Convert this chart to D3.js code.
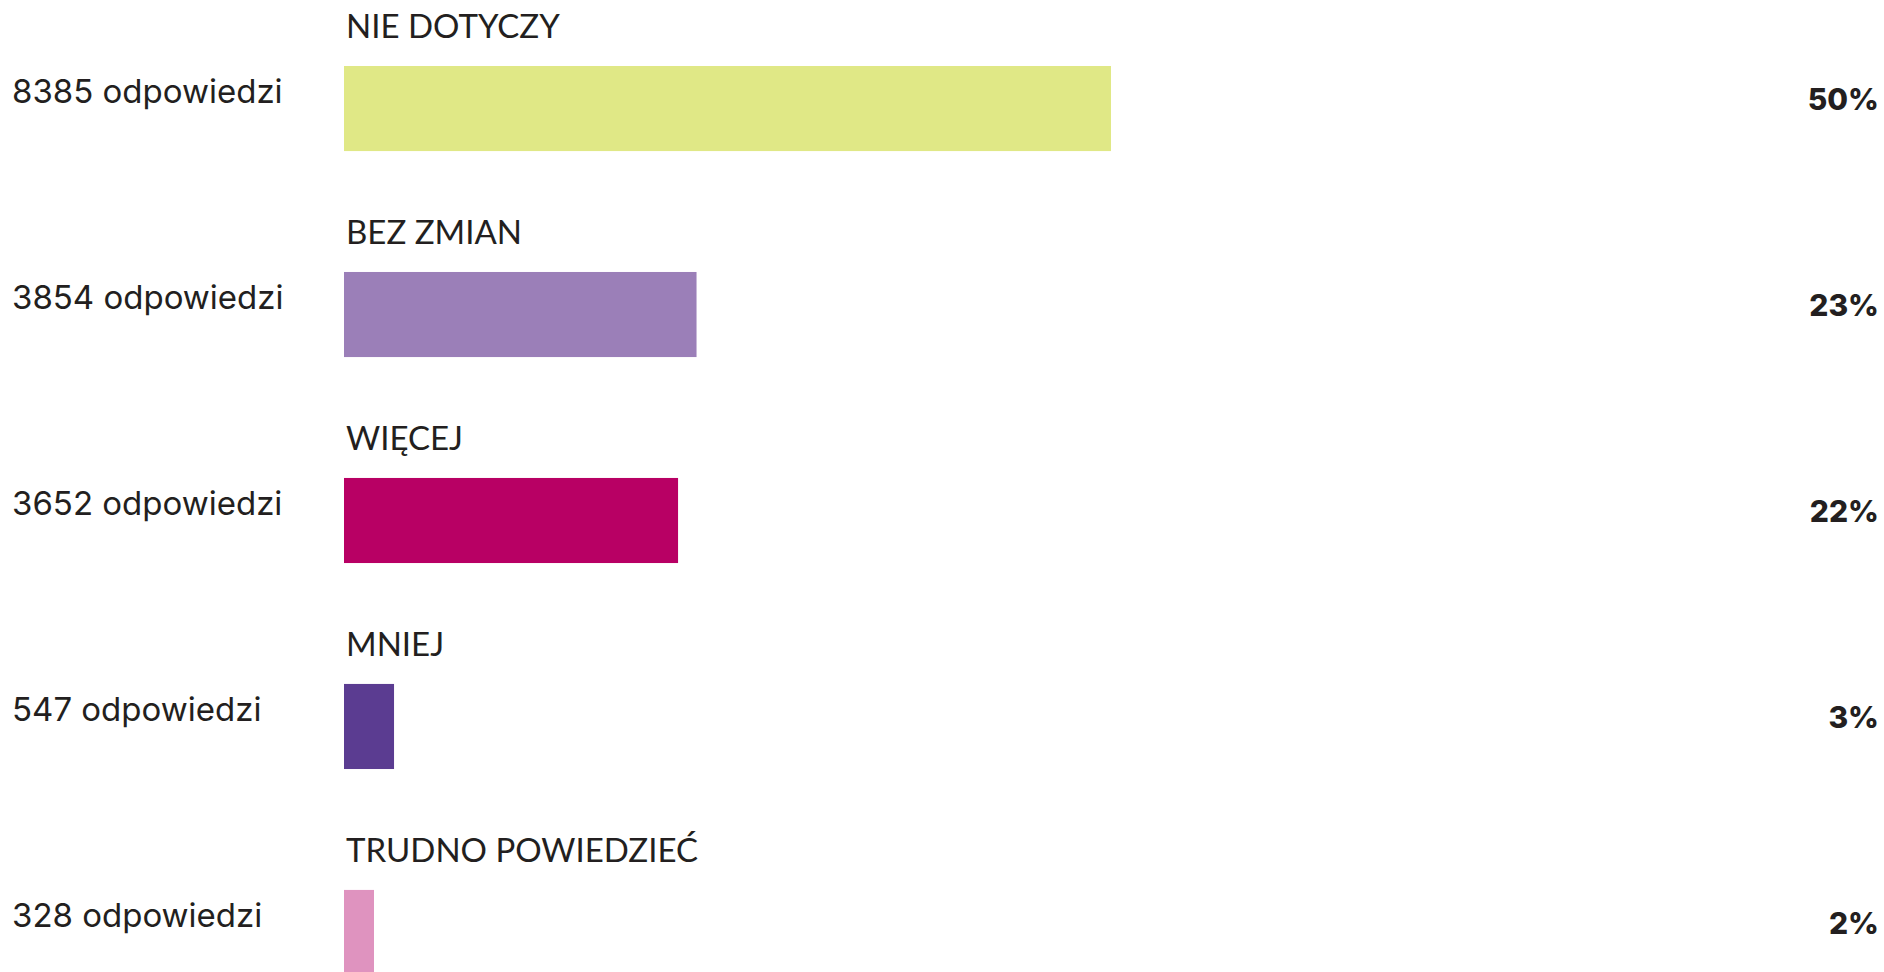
<!DOCTYPE html>
<html lang="pl">
<head>
<meta charset="utf-8">
<title>Odpowiedzi</title>
<script src="https://d3js.org/d3.v7.min.js"></script>
<style>
    html, body { margin: 0; padding: 0; background: #fff; }
    svg { display: block; }
    .cat { font-family: Lato, sans-serif; font-size: 33px; font-weight: 400; fill: #231f20; }
    .count { font-family: Inter, sans-serif; font-size: 33px; font-weight: 400; fill: #231f20; }
    .pct { font-family: Inter, sans-serif; font-weight: 800; font-size: 30px; fill: #231f20; }
</style>
</head>
<body>
<div id="chart"></div>
<script>
    var categories = ["NIE DOTYCZY", "BEZ ZMIAN", "WIĘCEJ", "MNIEJ", "TRUDNO POWIEDZIEĆ"];
    var counts = [8385, 3854, 3652, 547, 328];
    var percents = ["50%", "23%", "22%", "3%", "2%"];
    var colors = ["#e0e886", "#9b7fb8", "#b80064", "#5b3c91", "#df93bf"];

    var width = 1884, height = 972;

    var rows = categories.map(function(c, i) {
        return {cat: c, count: counts[i], pct: percents[i], color: colors[i]};
    });

    var svg = d3.select("#chart").append("svg")
        .attr("width", width)
        .attr("height", height);

    var x = d3.scaleLinear()
        .domain([0, 8385])
        .range([344, 1111]);

    var y = d3.scaleBand()
        .domain(categories)
        .range([66, 975])
        .paddingInner(0.587)
        .paddingOuter(0);

    var row = svg.selectAll("g.row")
        .data(rows)
        .enter()
        .append("g")
        .attr("class", "row");

    row.append("rect")
        .attr("x", x(0))
        .attr("y", function(d) { return y(d.cat); })
        .attr("width", function(d) { return x(d.count) - x(0); })
        .attr("height", y.bandwidth())
        .attr("fill", function(d) { return d.color; });

    // category name above the bar
    row.append("text")
        .attr("class", "cat")
        .attr("x", x(0) + 2)
        .attr("y", function(d) { return y(d.cat) - 28; })
        .text(function(d) { return d.cat; });

    // number of answers on the left
    row.append("text")
        .attr("class", "count")
        .attr("x", 12)
        .attr("y", function(d) { return y(d.cat) + 37; })
        .text(function(d) { return d.count + " odpowiedzi"; });

    // share on the right
    row.append("text")
        .attr("class", "pct")
        .attr("x", 1879)
        .attr("y", function(d) { return y(d.cat) + 44; })
        .attr("text-anchor", "end")
        .text(function(d) { return d.pct; });
</script>
</body>
</html>
